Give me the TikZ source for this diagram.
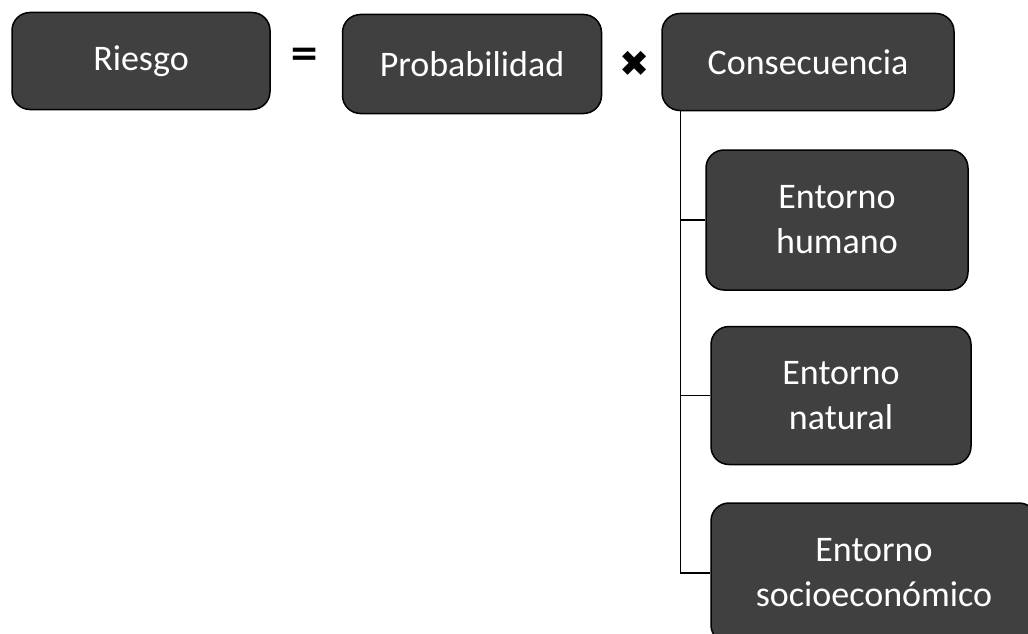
\documentclass[tikz,border=0pt]{standalone}
\usepackage{fontspec}
\setmainfont{Carlito}
\newfontfamily\symfont{DejaVu Sans}
\usepackage{tikz}
\usetikzlibrary{positioning}

\definecolor{boxfill}{HTML}{404040}

\begin{document}
\begin{tikzpicture}[
        x=1pt, y=1pt,
        term/.style={
            % The shape
            rectangle,
            rounded corners = 18pt,
            inner sep = 0pt,
            % The border
            line width = 1.5pt,
            draw = black,
            % The color
            fill = boxfill,
            text = white,
            % Font
            font = \fontsize{36}{45}\selectfont,
            align = center
        },
        operator/.style={
            inner sep = 0pt,
            font = \symfont\bfseries\fontsize{36}{36}\selectfont
        },
        branch/.style={
            line width = 1.5pt,
            draw = black
        },
    ]
        \path[use as bounding box, clip] (0,0) rectangle (1028,-634);

        \node (riesgo) [term,minimum width=258pt,minimum height=97pt] at (141,-61) {Riesgo};
        \node (eqSign) [operator] at (305,-57) {=};
        \node (probabilidad) [term,minimum width=259pt,minimum height=99pt,right=71pt of riesgo,yshift=-3pt] {Probabilidad};
        \node (timesSign) [operator] at (635,-64) {✖};
        \node (consecuencia) [term,minimum width=292pt,minimum height=97pt,right=59pt of probabilidad,yshift=2pt] {Consecuencia};

        \node (humano) [term,minimum width=262pt,minimum height=140pt,below=38pt of consecuencia.south west,anchor=north west,xshift=44pt] {Entorno\\humano};
        \node (natural) [term,minimum width=260pt,minimum height=138pt,below=35pt of humano.south west,anchor=north west,xshift=5pt] {Entorno\\natural};
        \node (socio) [term,minimum width=326pt,minimum height=140pt,below=37pt of natural.south west,anchor=north west] {Entorno\\socioeconómico};

        \coordinate (trunk) at ([xshift=19pt]consecuencia.south west);
        \path[branch] (trunk) |- (socio.west);
        \path[branch] (trunk |- humano.west) -- (humano.west);
        \path[branch] (trunk |- natural.west) -- (natural.west);

    \end{tikzpicture}
\end{document}
